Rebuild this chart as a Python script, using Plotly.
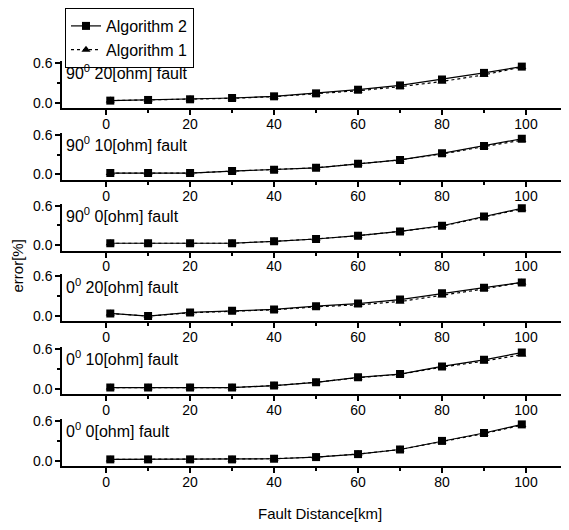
import plotly.graph_objects as go

distance_km = [1, 10, 20, 30, 40, 50, 60, 70, 80, 90, 99]
panel_labels = [
    "90<sup>0</sup> 20[ohm] fault",
    "90<sup>0</sup> 10[ohm] fault",
    "90<sup>0</sup> 0[ohm] fault",
    "0<sup>0</sup> 20[ohm] fault",
    "0<sup>0</sup> 10[ohm] fault",
    "0<sup>0</sup> 0[ohm] fault",
]
alg2_p1 = [0.03, 0.04, 0.05, 0.07, 0.095, 0.14, 0.195, 0.26, 0.35, 0.45, 0.545]
alg1_p1 = [0.03, 0.04, 0.05, 0.065, 0.09, 0.13, 0.18, 0.24, 0.32, 0.42, 0.54]
alg2_p2 = [0.02, 0.02, 0.02, 0.05, 0.07, 0.10, 0.16, 0.22, 0.32, 0.43, 0.54]
alg1_p2 = [0.02, 0.02, 0.02, 0.05, 0.07, 0.10, 0.16, 0.22, 0.31, 0.42, 0.52]
alg2_p3 = [0.03, 0.03, 0.03, 0.03, 0.06, 0.095, 0.145, 0.21, 0.295, 0.435, 0.56]
alg1_p3 = [0.03, 0.03, 0.03, 0.03, 0.06, 0.095, 0.145, 0.21, 0.29, 0.43, 0.55]
alg2_p4 = [0.04, 0.0, 0.055, 0.08, 0.10, 0.15, 0.19, 0.25, 0.345, 0.43, 0.51]
alg1_p4 = [0.04, 0.0, 0.05, 0.075, 0.095, 0.14, 0.17, 0.22, 0.31, 0.41, 0.51]
alg2_p5 = [0.02, 0.02, 0.02, 0.02, 0.05, 0.10, 0.175, 0.225, 0.34, 0.44, 0.55]
alg1_p5 = [0.02, 0.02, 0.02, 0.02, 0.05, 0.10, 0.17, 0.22, 0.33, 0.42, 0.52]
alg2_p6 = [0.02, 0.02, 0.02, 0.02, 0.03, 0.055, 0.10, 0.17, 0.30, 0.42, 0.55]
alg1_p6 = [0.02, 0.02, 0.02, 0.02, 0.03, 0.055, 0.10, 0.17, 0.29, 0.41, 0.54]

alg2_all = [alg2_p1, alg2_p2, alg2_p3, alg2_p4, alg2_p5, alg2_p6]
alg1_all = [alg1_p1, alg1_p2, alg1_p3, alg1_p4, alg1_p5, alg1_p6]

FONT = "Liberation Sans, Arial, sans-serif"

OFF = 8  # page body margin
W, H = 569 - OFF, 530 - OFF
ML, MR = 62 - OFF, 1
MT = 60 - OFF
MB = H - (466 - OFF)
plot_h = H - MT - MB
plot_w = W - ML - MR
panel_bottoms_px = [p - OFF for p in [107, 179, 250, 321, 394, 466]]
panel_h_px = 47


def px_x(px):
    return (px - OFF - ML) / plot_w


def px_y(py):
    return (H - MB - (py - OFF)) / plot_h


fig = go.Figure()
layout = {}
for i in range(6):
    n = i + 1
    xa = "x" if n == 1 else f"x{n}"
    ya = "y" if n == 1 else f"y{n}"
    show = i == 0
    fig.add_trace(go.Scatter(
        x=distance_km, y=alg2_all[i], xaxis=xa, yaxis=ya, mode="lines+markers",
        name="Algorithm 2", legendgroup="a2", showlegend=show,
        line=dict(color="black", width=1.2, dash="solid"),
        marker=dict(symbol="square", size=8, color="black"),
    ))
    fig.add_trace(go.Scatter(
        x=distance_km, y=alg1_all[i], xaxis=xa, yaxis=ya, mode="lines+markers",
        name="Algorithm 1", legendgroup="a1", showlegend=show,
        line=dict(color="black", width=1.2, dash="dot"),
        marker=dict(symbol="triangle-up", size=8, color="black"),
    ))
    b = (H - MB - panel_bottoms_px[i]) / plot_h
    t = b + panel_h_px / plot_h
    layout[f"xaxis{'' if n == 1 else n}"] = dict(
        domain=[0, 1], anchor=ya, range=[-10.5, 110],
        tickmode="array", tickvals=[0, 20, 40, 60, 80, 100],
        showline=True, linecolor="black", linewidth=2,
        ticks="outside", ticklen=5, tickwidth=1.5, tickcolor="black",
        ticklabelstandoff=-3,
        minor=dict(tickvals=[10, 30, 50, 70, 90], ticks="outside", ticklen=3, tickcolor="black"),
        showgrid=False, zeroline=False,
        tickfont=dict(family=FONT, size=14, color="black"),
    )
    layout[f"yaxis{'' if n == 1 else n}"] = dict(
        domain=[b, min(t, 1)], anchor=xa, range=[-0.08, 0.63],
        tickmode="array", tickvals=[0.0, 0.6], ticktext=["0.0", "0.6"],
        showline=True, linecolor="black", linewidth=1.5,
        ticks="outside", ticklen=5, tickwidth=1.5, tickcolor="black",
        minor=dict(tickvals=[0.3], ticks="outside", ticklen=3, tickcolor="black"),
        showgrid=False, zeroline=False,
        tickfont=dict(family=FONT, size=14, color="black"),
    )

annotations = []
for i in range(6):
    n = i + 1
    annotations.append(dict(
        text=panel_labels[i], xref=f"x{'' if n == 1 else n} domain",
        yref=f"y{'' if n == 1 else n} domain", x=0.004, y=1.02,
        xanchor="left", yanchor="top", showarrow=False,
        font=dict(family=FONT, size=16, color="black"),
    ))
annotations.append(dict(
    text="error[%]", xref="paper", yref="paper", x=px_x(17),
    y=px_y(266), textangle=-90, showarrow=False,
    xanchor="center", yanchor="middle",
    font=dict(family=FONT, size=15, color="black"),
))
annotations.append(dict(
    text="Fault Distance[km]", xref="paper", yref="paper", x=px_x(320),
    y=px_y(514), showarrow=False,
    xanchor="center", yanchor="middle",
    font=dict(family=FONT, size=15, color="black"),
))

fig.update_layout(
    width=W, height=H, margin=dict(l=ML, r=MR, t=MT, b=MB),
    paper_bgcolor="white", plot_bgcolor="white",
    annotations=annotations,
    legend=dict(
        x=px_x(65), y=px_y(8),
        xanchor="left", yanchor="top",
        bordercolor="black", borderwidth=1, bgcolor="white",
        font=dict(family=FONT, size=16, color="black"),
        tracegroupgap=0, itemwidth=30,
    ),
    **layout,
)

fig.write_html("out.html")
